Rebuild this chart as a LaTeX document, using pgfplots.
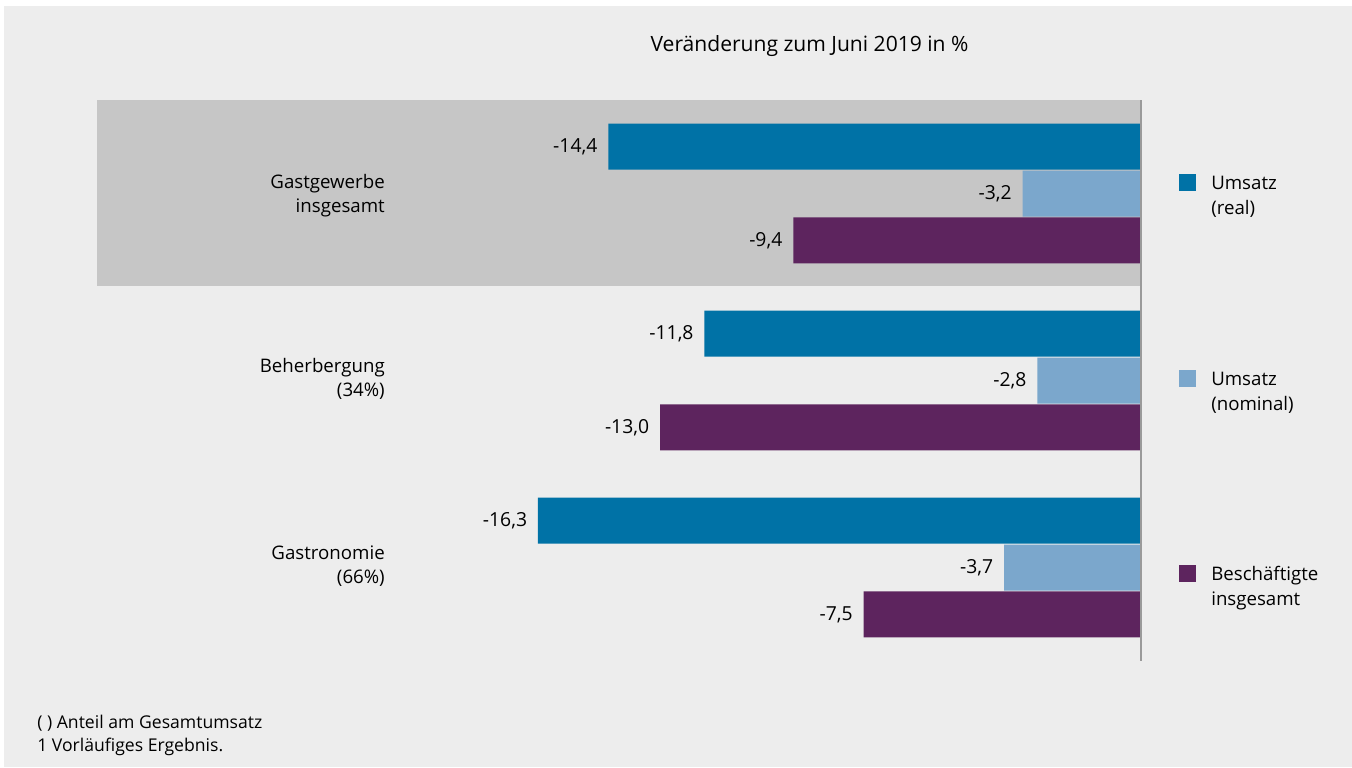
\documentclass[border=0pt]{standalone}
\usepackage{pgfplots}
\pgfplotsset{compat=1.18}
\usepackage{fontspec}
\setmainfont{Open Sans}
\definecolor{bgc}{HTML}{EDEDED}
\definecolor{boxc}{HTML}{C6C6C6}
\definecolor{cReal}{HTML}{0072A6}
\definecolor{cNom}{HTML}{7BA7CC}
\definecolor{cBes}{HTML}{5D245E}
\definecolor{axc}{HTML}{9A9A9A}
\begin{document}
\begin{tikzpicture}[font=\fontsize{14}{17}\selectfont]
\begin{scope}[x=0.75pt,y=-0.75pt]
\path[use as bounding box, fill=white] (0,0) rectangle (1352,767);
\fill[bgc] (4,6) rectangle (1352,767);
\fill[boxc] (97,100) rectangle (1141,286);
\end{scope}
\begin{axis}[
  at={(72.75pt,-75pt)}, anchor=north west,
  width=783pt, height=420.75pt, scale only axis,
  xmin=-28.22, xmax=0, ymin=-0.5, ymax=2.5,
  y dir=reverse, hide axis, clip=false,
  xbar, bar width=0.246,
  nodes near coords,
  every node near coord/.append style={anchor=east, inner sep=0pt, xshift=-8pt, font=\fontsize{14.5}{17}\selectfont, text=black},
  /pgf/number format/.cd, use comma, fixed, fixed zerofill, precision=1, assume math mode=true,
]
\addplot[fill=cReal, draw=none, bar shift=-0.251] coordinates {(-14.4,0) (-11.8,1) (-16.3,2)};
\addplot[fill=cNom, draw=none, bar shift=0] coordinates {(-3.2,0) (-2.8,1) (-3.7,2)};
\addplot[fill=cBes, draw=none, bar shift=0.251] coordinates {(-9.4,0) (-13.0,1) (-7.5,2)};
\end{axis}
\begin{scope}[x=0.75pt,y=-0.75pt]
\draw[axc, line width=1pt] (1141,100) -- (1141,661);
% title
\node[font=\fontsize{15.8}{17}\selectfont, anchor=base, inner sep=0pt] at (809.5,52) {Veränderung zum Juni 2019 in \%};
% category labels
\begin{scope}[every node/.style={anchor=base east, inner sep=0pt}]
\node at (385,188) {Gastgewerbe};
\node at (385,212) {insgesamt};
\node at (385,372) {Beherbergung};
\node at (385,396) {(34\%)};
\node at (385,559) {Gastronomie};
\node at (385,583) {(66\%)};
\end{scope}
% legend
\fill[cReal] (1179,174) rectangle (1196,191);
\fill[cNom] (1179,370) rectangle (1196,387);
\fill[cBes] (1179,565) rectangle (1196,582);
\begin{scope}[every node/.style={anchor=base west, inner sep=0pt}]
\node at (1211,189) {Umsatz};
\node at (1211,214) {(real)};
\node at (1211,385) {Umsatz};
\node at (1211,410) {(nominal)};
\node at (1211,580) {Beschäftigte};
\node at (1211,605) {insgesamt};
\end{scope}
% footnote
\begin{scope}[every node/.style={anchor=base west, inner sep=0pt, font=\fontsize{13.2}{16}\selectfont}]
\node at (37,728) {( ) Anteil am Gesamtumsatz};
\node at (37,751) {1 Vorläufiges Ergebnis.};
\end{scope}
\end{scope}
\end{tikzpicture}
\end{document}
